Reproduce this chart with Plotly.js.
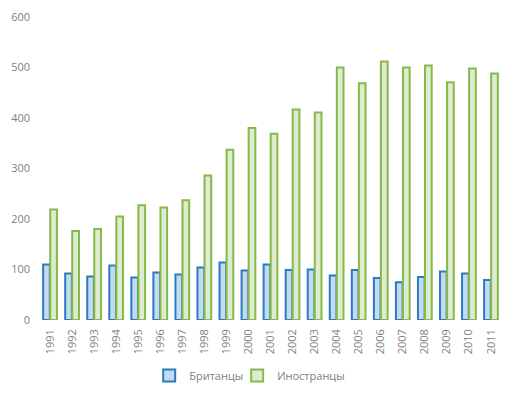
<!DOCTYPE html>
<html>
<head>
<meta charset="utf-8">
<script src="https://cdn.plot.ly/plotly-3.0.1.min.js"></script>
<style>html,body{margin:0;padding:0;background:#fff;}#chart{width:516px;height:394px;}</style>
</head>
<body>
<div id="chart"></div>
<script>
const years = ["1991","1992","1993","1994","1995","1996","1997","1998","1999","2000","2001","2002","2003","2004","2005","2006","2007","2008","2009","2010","2011"];
const british = [110,92,86,108,84,94,90,104,114,98,110,99,100,88,99,83,75,85,96,92,79];
const foreign = [219,176,180,205,227,223,237,286,337,380,369,417,411,500,469,512,500,504,471,498,488];
const seriesNames = ["Британцы","Иностранцы"];

const traces = [
  {type:"bar", x:years, y:british, name:seriesNames[0], legend:"legend",
   marker:{color:"#C5DAEE", line:{color:"#2B7BC1", width:2}}},
  {type:"bar", x:years, y:foreign, name:seriesNames[1], legend:"legend2",
   marker:{color:"#DEEBD2", line:{color:"#84BA48", width:2}}}
];

const legendCommon = {orientation:"h", xanchor:"left", y:-0.183, yanchor:"middle",
  font:{size:11, color:"#808080"}, itemwidth:30, bgcolor:"rgba(0,0,0,0)"};

const layout = {
  width:516, height:394,
  margin:{l:39, r:14, t:17, b:74, autoexpand:false},
  paper_bgcolor:"#fff", plot_bgcolor:"#fff",
  font:{family:"Open Sans, sans-serif", size:11, color:"#808080"},
  barmode:"group", bargap:0.36, bargroupgap:0.05,
  showlegend:true,
  legend:Object.assign({x:0.238}, legendCommon),
  legend2:Object.assign({x:0.428}, legendCommon),
  xaxis:{type:"category", tickangle:-90, showgrid:false, zeroline:false, showline:false,
         automargin:false, ticks:"", ticklabelstandoff:6, tickfont:{size:11, color:"#808080"}},
  yaxis:{range:[0,600], dtick:100, showgrid:false, zeroline:false, showline:false,
         automargin:false, ticks:"", ticklabelstandoff:8, tickfont:{size:11, color:"#808080"}}
};

Plotly.newPlot("chart", traces, layout, {displayModeBar:false, staticPlot:true});
</script>
</body>
</html>
